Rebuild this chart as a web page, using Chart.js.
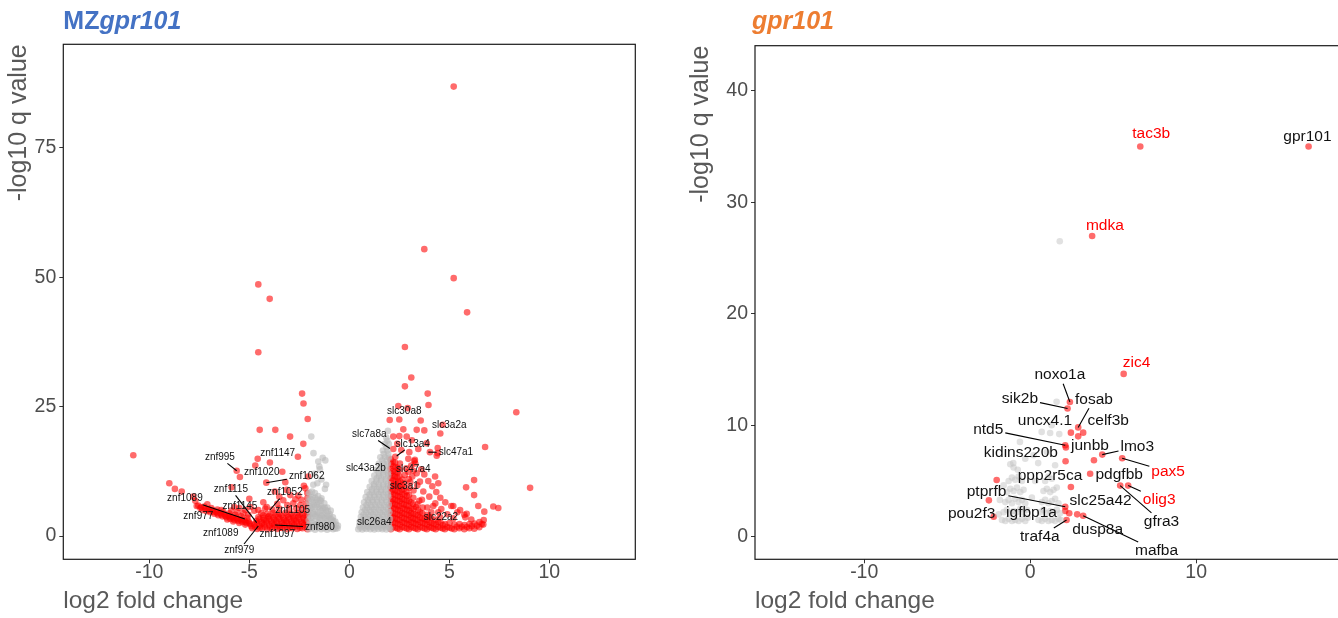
<!DOCTYPE html>
<html><head><meta charset="utf-8">
<script src="https://cdn.jsdelivr.net/npm/chart.js@4.4.1/dist/chart.umd.min.js"></script>
<style>
html,body{margin:0;padding:0;background:#fff;overflow:hidden;width:1338px;height:618px;position:relative;}
#c1{position:absolute;left:0;top:0;}
#c2{position:absolute;left:669px;top:0;}
</style></head><body>
<canvas id="c1" width="669" height="618"></canvas>
<canvas id="c2" width="700" height="618"></canvas>
<script>
// ---------------- DATA: panel 1 (MZgpr101) ----------------
const mzTitleParts = ['MZ', 'gpr101'];
const mzXTicks = [-10, -5, 0, 5, 10];
const mzYTicks = [0, 25, 50, 75];
const mzGrayDown = [
[-2.02,1.3],[-2.0,2.2],[-2.03,3.1],[-1.98,4.0],[-2.01,4.9],[-1.97,5.8],[-2.02,6.7],[-1.99,7.6],[-2.0,8.4],
[-1.86,1.5],[-1.84,2.5],[-1.87,3.5],[-1.83,4.5],[-1.86,5.5],[-1.85,6.5],[-1.84,7.5],[-1.86,8.6],
[-1.71,1.2],[-1.69,2.0],[-1.72,2.9],[-1.68,3.8],[-1.7,4.7],[-1.71,5.6],[-1.69,6.5],[-1.7,7.4],[-1.72,8.3],
[-1.56,1.6],[-1.54,2.6],[-1.55,3.6],[-1.57,4.6],[-1.53,5.6],[-1.55,6.6],[-1.56,7.7],
[-1.41,1.3],[-1.39,2.2],[-1.4,3.1],[-1.42,4.0],[-1.38,4.9],[-1.4,5.8],[-1.41,6.8],[-1.39,7.3],
[-1.26,1.5],[-1.24,2.5],[-1.25,3.5],[-1.27,4.5],[-1.23,5.5],[-1.25,6.3],
[-1.11,1.2],[-1.09,2.1],[-1.1,3.0],[-1.12,3.9],[-1.08,4.8],[-1.1,5.5],
[-0.96,1.5],[-0.94,2.4],[-0.95,3.3],[-0.97,4.2],[-0.93,4.9],
[-0.81,1.3],[-0.79,2.1],[-0.8,2.9],[-0.82,3.6],
[-0.69,1.4],[-0.67,2.2],[-0.7,2.8],[-0.59,1.5],[-0.57,2.0],
[-1.93,1.75],[-1.78,2.1],[-1.63,2.25],[-1.48,1.9],[-1.33,1.85],[-1.18,1.7],[-1.03,1.95],[-0.88,1.8],[-0.74,1.7],
[-1.93,3.55],[-1.78,4.2],[-1.62,4.15],[-1.47,3.5],[-1.32,4.0],[-1.17,3.45],[-1.02,3.8],[-0.88,3.2],
[-1.93,5.35],[-1.78,6.0],[-1.62,6.05],[-1.47,5.3],[-1.32,5.3],[-1.17,5.0],[-1.9,7.1],[-1.62,7.05],[-1.46,6.9],
[-1.9,19.2],[-1.79,16.0],[-1.33,15.1],[-1.55,14.4],[-1.2,14.6],[-1.47,12.9],[-1.75,12.0],
[-1.39,10.9],[-1.16,9.9],[-1.8,9.9],[-1.22,9.1],[-1.6,10.2],[-1.5,13.4]
];
const mzGrayUp = [
[0.45,1.3],[0.65,1.25],[0.85,1.35],[1.05,1.3],[1.25,1.25],[1.45,1.35],[1.65,1.3],[1.85,1.25],[2.05,1.35],
[0.5,2.0],[0.7,2.05],[0.9,1.95],[1.1,2.05],[1.3,2.0],[1.5,1.95],[1.7,2.05],[1.9,2.0],
[0.52,2.8],[0.75,2.85],[0.98,2.75],[1.2,2.85],[1.42,2.8],[1.65,2.75],[1.88,2.85],
[0.58,3.7],[0.8,3.65],[1.02,3.75],[1.25,3.7],[1.48,3.65],[1.7,3.75],[1.95,3.7],
[0.62,4.6],[0.85,4.55],[1.08,4.65],[1.3,4.6],[1.55,4.55],[1.78,4.65],[2.0,4.6],
[0.68,5.5],[0.9,5.45],[1.12,5.55],[1.35,5.5],[1.58,5.45],[1.82,5.55],
[0.74,6.5],[0.96,6.45],[1.18,6.55],[1.4,6.5],[1.62,6.45],[1.86,6.55],
[0.82,7.5],[1.04,7.45],[1.26,7.55],[1.5,7.5],[1.72,7.45],[1.95,7.55],
[0.9,8.5],[1.12,8.45],[1.35,8.55],[1.58,8.5],[1.82,8.45],
[1.02,9.5],[1.25,9.55],[1.48,9.45],[1.7,9.5],[1.93,9.55],
[1.12,10.6],[1.35,10.55],[1.58,10.65],[1.82,10.6],
[1.25,11.7],[1.48,11.65],[1.7,11.75],[1.94,11.7],
[1.35,12.8],[1.58,12.85],[1.82,12.75],
[1.48,14.0],[1.7,14.05],[1.92,13.95],
[1.55,15.2],[1.78,15.25],[1.98,15.15],
[1.68,16.5],[1.9,16.45],[1.78,17.8],[1.98,17.75],[1.85,19.0],[1.93,20.3],
[0.55,1.65],[0.76,1.6],[0.97,1.7],[1.18,1.6],[1.39,1.7],[1.6,1.6],[1.8,1.7],[2.0,1.65],
[0.62,2.4],[0.85,2.45],[1.08,2.35],[1.31,2.45],[1.54,2.4],[1.77,2.35],[1.98,2.45],
[0.66,3.25],[0.9,3.3],[1.13,3.2],[1.36,3.3],[1.59,3.25],[1.82,3.2],[2.03,3.3],
[0.72,4.15],[0.96,4.1],[1.19,4.2],[1.42,4.15],[1.66,4.1],[1.89,4.2],
[0.79,5.05],[1.01,5.0],[1.24,5.1],[1.47,5.05],[1.7,5.0],[1.93,5.1],
[0.86,6.0],[1.07,5.95],[1.29,6.05],[1.51,6.0],[1.74,5.95],[1.97,6.05],
[0.93,7.0],[1.15,6.95],[1.38,7.05],[1.61,7.0],[1.84,6.95],
[1.01,8.0],[1.24,7.95],[1.47,8.05],[1.7,8.0],[1.93,8.05],
[1.13,9.0],[1.37,9.05],[1.59,8.95],[1.82,9.0],[1.24,10.05],[1.47,10.1],[1.7,10.0],[1.92,10.1],
[1.37,11.15],[1.6,11.2],[1.84,11.1],[1.47,12.25],[1.7,12.3],[1.93,12.2],[1.6,13.4],[1.83,13.45],
[1.65,14.6],[1.88,14.65],[1.72,15.85],[1.95,15.9],[1.86,17.1],[1.9,18.4]
];
const mzRedDown = [
[-10.8,15.6],[-4.55,48.6],[-3.98,45.8],[-4.55,35.5],[-2.36,27.5],[-2.29,25.6],[-2.08,22.6],[-4.48,20.5],
[-3.7,20.5],[-2.96,19.2],[-2.3,17.8],[-2.57,15.3],[-4.58,14.9],[-3.97,14.2],[-4.7,13.6],[-5.63,12.6],
[-5.47,11.4],[-3.35,12.4],[-4.15,10.3],[-3.2,10.4],[-2.05,11.5],[-9.0,10.2],[-8.72,9.1],[-8.38,8.6],
[-5.88,9.4],[-2.27,9.7],[-5.0,7.2],[-7.8,7.6],[-7.7,6.8],[-7.63,5.8],
[-7.55,5.9],[-7.45,5.4],[-7.35,5.0],[-7.25,5.7],[-7.15,4.8],[-7.05,5.2],[-6.95,4.6],[-6.85,5.0],
[-6.75,4.3],[-6.65,4.7],[-6.55,4.0],[-6.45,4.4],[-6.35,3.8],[-6.25,4.2],[-6.15,3.6],[-6.05,3.9],
[-5.95,3.3],[-5.85,3.7],[-5.75,3.1],[-5.65,3.5],[-5.55,2.9],[-5.45,3.3],[-5.35,2.7],[-5.25,3.1],
[-5.15,2.5],[-5.05,2.9],[-4.95,2.3],[-6.9,5.4],[-6.6,5.1],[-6.3,4.7],[-6.0,4.4],[-5.7,4.1],
[-5.4,3.8],[-5.1,3.5],[-6.1,3.2],[-5.8,2.8],[-5.5,2.5],[-5.2,2.2],[-4.9,1.9],[-5.9,4.9],
[-5.6,4.6],[-5.3,4.4],[-5.05,4.1],[-5.5,5.4],[-5.2,5.0],[-4.95,5.6],[-5.75,5.6],[-6.4,5.0],[-7.1,6.1],
[-7.4,5.55],[-7.2,5.25],[-7.0,4.95],[-6.8,4.65],[-6.6,4.35],[-6.4,4.1],[-6.2,3.85],[-6.0,3.6],
[-5.8,3.4],[-5.6,3.2],[-5.4,3.0],[-5.2,2.75],[-5.0,2.55],
[-4.85,1.5],[-4.6,1.35],[-4.35,1.55],[-4.1,1.3],[-3.85,1.5],[-3.6,1.35],[-3.35,1.55],[-3.1,1.3],
[-2.85,1.5],[-2.6,1.35],[-2.35,1.5],[-2.1,1.3],
[-4.72,1.75],[-4.47,1.6],[-4.22,1.8],[-3.97,1.65],[-3.72,1.8],[-3.47,1.6],[-3.22,1.8],[-2.97,1.65],
[-2.72,1.8],[-2.47,1.6],[-2.22,1.75],
[-4.75,2.2],[-4.5,2.0],[-4.25,2.25],[-4.0,2.05],[-3.75,2.2],[-3.5,2.0],[-3.25,2.2],[-3.0,2.05],
[-2.75,2.2],[-2.5,2.0],[-2.25,2.2],[-2.05,2.0],
[-4.62,2.5],[-4.37,2.4],[-4.12,2.55],[-3.87,2.4],[-3.62,2.55],[-3.37,2.4],[-3.12,2.55],[-2.87,2.4],
[-2.62,2.55],[-2.37,2.4],[-2.12,2.5],
[-4.65,2.9],[-4.4,2.75],[-4.15,2.95],[-3.9,2.8],[-3.65,2.95],[-3.4,2.75],[-3.15,2.9],[-2.9,2.8],
[-2.65,2.95],[-2.4,2.75],[-2.15,2.9],
[-4.5,3.25],[-4.25,3.15],[-4.0,3.3],[-3.75,3.2],[-3.5,3.3],[-3.25,3.15],[-3.0,3.3],[-2.75,3.2],
[-2.5,3.3],[-2.25,3.15],
[-4.55,3.6],[-4.3,3.5],[-4.05,3.7],[-3.8,3.55],[-3.55,3.7],[-3.3,3.5],[-3.05,3.65],[-2.8,3.55],
[-2.55,3.7],[-2.3,3.5],[-2.08,3.65],
[-4.3,4.0],[-4.0,3.9],[-3.7,4.05],[-3.4,3.95],[-3.1,4.05],[-2.8,3.9],[-2.5,4.05],[-2.2,3.95],
[-4.4,4.4],[-4.1,4.3],[-3.8,4.5],[-3.5,4.35],[-3.2,4.5],[-2.9,4.3],[-2.6,4.45],[-2.35,4.3],[-2.1,4.5],
[-4.2,5.3],[-3.85,5.1],[-3.5,5.3],[-3.0,5.15],[-2.65,5.3],[-2.35,5.1],[-2.1,5.3],
[-3.6,6.2],[-3.1,6.0],[-2.8,6.3],[-2.45,6.0],[-2.15,6.2],
[-3.3,6.9],[-2.7,7.1],[-2.4,7.0],[-2.1,7.3],[-4.3,6.5],[-4.75,4.9],
[-3.72,8.6],[-3.13,8.9],[-2.55,7.8],[-2.2,9.2],[-4.13,5.6],[-4.55,5.0],[-2.95,7.9],[-3.5,7.6],[-2.1,8.3]
];
const mzRedUp = [
[5.22,86.8],[3.75,55.4],[5.22,49.8],[5.89,43.2],[2.78,36.5],[3.1,30.6],[2.78,28.9],[3.92,27.5],
[3.96,25.3],[2.45,25.1],[2.92,24.7],[8.35,23.9],[2.02,22.4],[2.5,22.5],[3.57,22.3],[4.67,21.5],
[3.75,20.4],[2.7,20.6],[3.37,20.5],[4.55,19.8],[2.2,19.2],[2.87,19.2],[3.13,18.5],[3.87,17.9],
[4.42,17.0],[6.79,17.2],[4.37,15.5],[4.03,16.2],[4.42,16.0],[3.28,14.7],[2.95,12.4],[3.37,12.1],
[3.53,10.5],[4.29,11.5],[4.45,10.2],[6.24,10.8],[5.84,9.4],[6.24,7.9],[9.04,9.3],[5.2,5.8],
[6.45,5.8],[6.75,4.7],[7.2,5.7],[7.45,5.4],[5.87,4.3],[5.75,4.1],[5.54,5.0],
[2.08,1.3],[2.06,2.2],[2.09,3.1],[2.07,4.0],[2.08,4.9],[2.06,5.8],[2.09,6.7],[2.07,7.6],
[2.08,8.5],[2.06,9.4],[2.09,10.3],[2.07,11.2],[2.08,12.1],[2.06,13.0],[2.09,13.9],[2.07,14.8],
[2.19,1.75],[2.2,2.65],[2.18,3.55],[2.19,4.45],[2.21,5.35],[2.17,6.25],[2.19,7.15],[2.2,8.05],
[2.18,8.95],[2.19,9.85],[2.21,10.75],[2.17,11.65],[2.19,12.55],[2.2,13.45],[2.18,14.35],
[2.3,1.6],[2.31,2.5],[2.29,3.4],[2.3,4.3],[2.32,5.2],[2.28,6.1],[2.3,7.0],[2.31,7.9],
[2.29,8.8],[2.3,9.7],[2.32,10.6],[2.28,11.5],[2.3,12.4],[2.31,13.3],[2.29,14.2],[2.3,15.3],
[2.41,1.45],[2.42,2.35],[2.4,3.25],[2.41,4.15],[2.43,5.05],[2.39,5.95],[2.41,6.85],[2.42,7.75],
[2.4,8.65],[2.41,9.55],[2.43,10.45],[2.39,11.35],[2.41,12.25],[2.42,13.15],
[2.52,1.3],[2.53,2.2],[2.51,3.1],[2.52,4.0],[2.54,4.9],[2.5,5.8],[2.52,6.7],[2.53,7.6],
[2.51,8.5],[2.52,9.4],[2.54,10.5],[2.5,11.6],[2.52,12.8],[2.53,14.0],
[2.64,1.75],[2.65,2.65],[2.63,3.55],[2.64,4.45],[2.66,5.35],[2.62,6.25],[2.64,7.15],[2.65,8.05],
[2.63,8.95],[2.64,9.85],[2.66,10.9],
[2.75,1.6],[2.76,2.5],[2.74,3.4],[2.75,4.3],[2.77,5.2],[2.73,6.1],[2.75,7.0],[2.76,8.0],
[2.74,9.1],[2.75,10.2],[2.77,11.8],
[2.87,1.45],[2.88,2.35],[2.86,3.25],[2.87,4.15],[2.89,5.05],[2.85,5.95],[2.87,6.85],[2.88,7.75],[2.86,8.6],
[2.98,1.3],[2.99,2.2],[2.97,3.1],[2.98,4.0],[3.0,4.9],[2.96,5.8],[2.98,6.8],[2.99,7.9],
[3.0,9.3],[3.05,10.4],[2.97,11.0],
[3.09,1.75],[3.1,2.65],[3.08,3.55],[3.09,4.45],[3.11,5.35],[3.07,6.5],
[3.2,1.6],[3.21,2.5],[3.19,3.4],[3.2,4.3],[3.22,5.2],[3.18,6.2],[3.2,7.4],[3.21,8.8],
[3.15,11.5],[3.2,12.6],[3.1,13.6],[3.25,14.5],[2.95,14.9],
[3.31,1.45],[3.32,2.35],[3.3,3.25],[3.31,4.15],[3.33,5.6],
[3.42,1.3],[3.43,2.2],[3.41,3.1],[3.42,4.0],[3.44,5.0],[3.4,6.1],
[3.54,1.75],[3.55,2.65],[3.53,3.55],[3.54,4.6],
[3.65,1.6],[3.66,2.5],[3.64,3.4],[3.65,4.4],[3.67,5.5],[3.63,7.0],
[3.77,1.45],[3.78,2.35],[3.76,3.3],
[3.88,1.3],[3.89,2.2],[3.87,3.1],[3.88,4.1],[4.0,1.75],[4.01,2.65],[3.99,3.7],
[4.1,1.6],[4.11,2.5],[4.09,3.5],[4.1,4.6],[4.21,1.45],[4.22,2.35],
[4.32,1.3],[4.33,2.2],[4.31,3.2],[4.44,1.75],[4.45,2.7],[4.55,1.6],[4.56,2.6],[4.54,3.6],
[4.67,1.45],[4.68,2.1],[4.78,1.3],[4.79,2.3],[4.9,1.75],[5.0,1.6],[5.01,2.5],[5.12,1.45],
[5.25,1.3],[5.26,2.2],[5.38,1.8],[5.5,1.5],[5.51,2.3],[5.62,1.8],
[5.75,1.3],[5.76,2.1],[5.88,1.75],[6.0,1.5],[6.01,2.3],[6.12,1.9],[6.25,1.4],[6.26,2.4],
[6.38,2.0],[6.5,1.7],[6.51,2.7],[6.62,2.3],[6.7,2.2],[6.72,3.1],
[3.3,14.0],[3.6,12.9],[3.75,11.9],[3.95,10.6],[4.15,9.6],[4.35,8.5],[4.55,7.4],[4.8,6.5],
[5.1,5.8],[3.4,9.8],[3.7,8.6],[4.0,7.6],[4.3,6.3],[4.6,5.2],[5.4,4.6],[5.8,3.6],[6.1,3.2],
[2.6,16.6],[2.4,17.8],[2.2,16.8],[2.5,19.3],[3.0,16.2],[3.45,16.8],[2.85,13.1],[3.9,5.5],
[4.2,5.8],[4.9,4.2],[5.2,3.4],[3.5,6.8],[4.45,4.6]
];
const mzLabelNames = ['znf995','znf1147','znf1020','znf1062','znf1115','znf1089','znf1052','znf1145',
  'znf1105','znf977','znf980','znf1089','znf1097','znf979','slc30a8','slc3a2a','slc7a8a','slc13a4',
  'slc47a1','slc43a2b','slc47a4','slc3a1','slc22a2','slc26a4'];
const mzLabelSpots = [[-6.47,15.2],[-3.58,16.0],[-4.38,12.4],[-2.13,11.6],[-5.92,9.0],[-8.22,7.2],
  [-3.22,8.37],[-5.47,5.8],[-2.83,5.02],[-7.55,3.86],[-1.47,1.68],[-6.43,0.52],[-3.6,0.39],[-5.5,-2.7],
  [2.75,24.1],[5.0,21.4],[1.0,19.6],[3.17,17.8],[5.33,16.1],[0.83,13.1],[3.2,12.9],[2.75,9.66],
  [4.58,3.54],[1.25,2.57]];
const mzLabelAnchors = [[-5.63,12.6],null,null,[-4.15,10.3],[-4.63,2.57],[-5.22,3.28],[-3.97,5.02],null,
  null,null,[-3.72,2.12],null,null,[-4.55,1.93],null,null,[2.03,16.9],[2.37,15.45],[3.95,16.2],
  null,null,null,null,null];

// ---------------- DATA: panel 2 (gpr101) ----------------
const gprTitleParts = ['gpr101'];
const gprXTicks = [-10, 0, 10];
const gprYTicks = [0, 10, 20, 30, 40];
const gprGray = [
[-1.7,1.5],[-1.5,1.4],[-1.3,1.6],[-1.1,1.4],[-0.9,1.5],[-0.7,1.4],[-0.5,1.6],[-0.3,1.4],[-0.15,1.7],
[-1.6,2.2],[-1.4,2.4],[-1.2,2.1],[-1.0,2.3],[-0.8,2.2],[-0.6,2.5],[-0.4,2.2],[-0.2,2.4],
[-1.5,3.1],[-1.3,3.3],[-1.1,3.0],[-0.9,3.4],[-0.7,3.1],[-0.5,3.3],[-0.3,3.0],
[-1.4,4.0],[-1.2,4.3],[-1.0,4.1],[-0.8,4.4],[-0.6,4.0],[-0.4,4.2],
[-1.3,5.0],[-1.1,5.3],[-0.9,5.1],[-0.7,5.4],[-0.5,5.0],[-1.0,6.2],[-0.75,6.0],[-1.2,6.5],
[0.5,1.5],[0.7,1.4],[0.9,1.6],[1.1,1.4],[1.3,1.5],[1.5,1.4],[1.7,1.6],[1.85,1.5],
[0.6,2.2],[0.8,2.4],[1.0,2.1],[1.2,2.3],[1.4,2.2],[1.6,2.4],[1.8,2.1],
[0.7,3.1],[0.9,3.3],[1.1,3.0],[1.3,3.2],[1.5,3.4],[1.7,3.0],
[0.8,4.1],[1.0,4.3],[1.2,4.0],[1.4,4.2],[1.6,4.4],[0.9,5.0],[1.1,5.4],[1.3,5.2],
[1.78,26.5],[1.59,12.1],[1.29,10.0],[0.69,9.4],[1.2,9.3],[1.75,9.2],[-0.62,8.5],[-1.02,6.6],
[0.48,6.6],[-1.83,3.3],[-1.9,2.0],[0.2,7.3],[-0.3,7.0],[1.0,7.6],[1.5,6.4],[-1.6,4.6],[0.3,5.0],[0.1,3.5]
];
const gprRed = [
[16.77,35.0],[6.63,35.0],[3.73,26.97],[5.63,14.6],[2.39,12.08],[2.25,11.5],[2.89,9.8],[3.19,9.33],
[2.45,9.33],[2.89,9.0],[2.11,8.2],[2.15,8.0],[4.34,7.36],[3.84,6.85],[2.13,6.76],[5.54,7.03],
[3.61,5.65],[2.45,4.46],[5.42,4.58],[5.9,4.58],[-2.02,5.08],[-2.49,3.26],[-2.2,1.79],[2.11,2.69],
[2.11,2.3],[2.35,2.1],[2.83,2.0],[3.19,1.88],[2.19,1.5]
];
const gprLabelNames = ['gpr101','tac3b','mdka','zic4','noxo1a','sik2b','fosab','uncx4.1','celf3b','ntd5',
  'junbb','kidins220b','lmo3','pax5','ppp2r5ca','pdgfbb','ptprfb','olig3','slc25a42','gfra3','pou2f3',
  'igfbp1a','dusp8a','traf4a','mafba'];
const gprLabelSpots = [[16.7,35.9],[7.29,36.1],[4.5,27.9],[6.41,15.6],[1.79,14.5],[-0.62,12.4],[3.84,12.3],
  [0.89,10.4],[4.7,10.4],[-2.53,9.63],[3.6,8.13],[-0.56,7.53],[6.45,8.07],[8.31,5.83],[1.19,5.44],
  [5.36,5.6],[-2.63,4.04],[7.77,3.35],[4.24,3.23],[7.91,1.35],[-3.53,2.1],[0.08,2.15],[4.06,0.66],
  [0.58,0.0],[7.61,-1.26]];
const gprLabelAnchors = [null,null,null,null,[2.39,12.08],[2.25,11.5],[2.89,9.8],null,null,[2.11,8.2],
  null,null,[4.34,7.36],[5.54,7.03],null,null,[2.11,2.69],[5.9,4.58],null,[5.42,4.58],null,null,null,
  [2.19,1.5],[3.19,1.88]];
const gprRedLabels = ['tac3b','mdka','zic4','pax5','olig3'];

// ---------------- rendering ----------------
const FONT = '"Liberation Sans", Arial, Helvetica, sans-serif';
const toXY = pairs => pairs.map(p => ({x: p[0], y: p[1]}));

const framePlugin = {
  id: 'frame',
  afterDatasetsDraw(chart) {
    const a = chart.chartArea, ctx = chart.ctx;
    ctx.save();
    ctx.strokeStyle = '#1a1a1a';
    ctx.lineWidth = 1.2;
    ctx.strokeRect(a.left, a.top, a.right - a.left, a.bottom - a.top);
    ctx.restore();
  }
};

function labelPlugin(names, spots, anchors, redNames, size) {
  return {
    id: 'geneLabels',
    afterDatasetsDraw(chart) {
      const {ctx, scales: {x, y}} = chart;
      ctx.save();
      ctx.font = size + 'px ' + FONT;
      ctx.textAlign = 'center';
      ctx.textBaseline = 'middle';
      ctx.strokeStyle = '#000';
      ctx.lineWidth = 1.1;
      names.forEach((n, i) => {
        const a = anchors[i];
        if (!a) return;
        const cx = x.getPixelForValue(spots[i][0]), cy = y.getPixelForValue(spots[i][1]);
        const ax = x.getPixelForValue(a[0]), ay = y.getPixelForValue(a[1]);
        const hw = ctx.measureText(n).width / 2 + 2, hh = size * 0.5 + 1;
        const dx = ax - cx, dy = ay - cy;
        const t = Math.min(dx ? hw / Math.abs(dx) : Infinity, dy ? hh / Math.abs(dy) : Infinity);
        if (t >= 1) return;
        ctx.beginPath();
        ctx.moveTo(cx + dx * t, cy + dy * t);
        ctx.lineTo(ax, ay);
        ctx.stroke();
      });
      names.forEach((n, i) => {
        ctx.fillStyle = redNames.includes(n) ? '#ff0000' : '#111';
        ctx.fillText(n, x.getPixelForValue(spots[i][0]), y.getPixelForValue(spots[i][1]));
      });
      ctx.restore();
    }
  };
}

function titlePlugin(parts, fonts, color, dx, baseline) {
  return {
    id: 'panelTitle',
    afterDraw(chart) {
      const ctx = chart.ctx;
      ctx.save();
      ctx.fillStyle = color;
      ctx.textBaseline = 'alphabetic';
      ctx.textAlign = 'left';
      let xx = chart.chartArea.left + dx;
      parts.forEach((p, i) => {
        ctx.font = fonts[i] + ' 25px ' + FONT;
        ctx.fillText(p, xx, baseline);
        xx += ctx.measureText(p).width;
      });
      ctx.restore();
    }
  };
}

function makePanel(id, o) {
  return new Chart(document.getElementById(id), {
    type: 'scatter',
    data: {datasets: [
      {data: toXY(o.gray), backgroundColor: o.grayColor, pointRadius: 3.3, pointHoverRadius: 3.3, borderWidth: 0},
      {data: toXY(o.red), backgroundColor: 'rgba(255,0,0,0.58)', pointRadius: 3.3, pointHoverRadius: 3.3, borderWidth: 0}
    ]},
    options: {
      responsive: false, animation: false, events: [], devicePixelRatio: 1,
      layout: {padding: o.pad},
      plugins: {legend: {display: false}, tooltip: {enabled: false}},
      scales: {
        x: {
          type: 'linear', min: o.xMin, max: o.xMax,
          afterBuildTicks: s => { s.ticks = o.xTicks.map(v => ({value: v})); },
          afterFit: s => { s.height = o.xH; },
          ticks: {color: '#4d4d4d', font: {size: 19.5, family: FONT, lineHeight: 1}, padding: 0, maxRotation: 0, autoSkip: false},
          grid: {display: true, drawOnChartArea: false, drawTicks: true, tickLength: 4, color: '#333', lineWidth: 1},
          border: {display: false},
          title: {display: true, text: 'log2 fold change', align: 'start', color: '#595959',
                  font: {size: 24.5, family: FONT, lineHeight: 1}, padding: {top: 0, bottom: 4.5}}
        },
        y: {
          type: 'linear', min: o.yMin, max: o.yMax,
          afterBuildTicks: s => { s.ticks = o.yTicks.map(v => ({value: v})); },
          afterFit: s => { s.width = o.yW; },
          ticks: {color: '#4d4d4d', font: {size: 19.5, family: FONT, lineHeight: 1}, padding: 3, autoSkip: false},
          grid: {display: true, drawOnChartArea: false, drawTicks: true, tickLength: 4, color: '#333', lineWidth: 1},
          border: {display: false},
          title: {display: true, text: '-log10 q value', align: 'end', color: '#595959',
                  font: {size: 25, family: FONT, lineHeight: 1}, padding: {top: o.yTitlePad, bottom: 0}}
        }
      }
    },
    plugins: [framePlugin, labelPlugin(o.labNames, o.labSpots, o.labAnchors, o.labRed, o.labSize),
              titlePlugin(o.titleParts, o.titleFonts, o.titleColor, o.titleDx, 28.5)]
  });
}

makePanel('c1', {
  gray: mzGrayDown.concat(mzGrayUp), red: mzRedDown.concat(mzRedUp), grayColor: 'rgba(185,185,185,0.6)',
  pad: {top: 44.3, right: 33.7, left: 0, bottom: 0},
  xMin: -14.3, xMax: 14.3, yMin: -4.5, yMax: 94.97, xTicks: mzXTicks, yTicks: mzYTicks,
  xH: 58.7, yW: 63.3, yTitlePad: 7,
  labNames: mzLabelNames, labSpots: mzLabelSpots, labAnchors: mzLabelAnchors, labRed: [], labSize: 10,
  titleParts: mzTitleParts, titleFonts: ['bold', 'italic bold'], titleColor: '#4472C4', titleDx: 0
});

makePanel('c2', {
  gray: gprGray, red: gprRed, grayColor: 'rgba(195,195,195,0.5)',
  pad: {top: 45.7, right: 23.4, left: 0, bottom: 0},
  xMin: -16.58, xMax: 19.0, yMin: -2.03, yMax: 44.04, xTicks: gprXTicks, yTicks: gprYTicks,
  xH: 58.7, yW: 86, yTitlePad: 20,
  labNames: gprLabelNames, labSpots: gprLabelSpots, labAnchors: gprLabelAnchors, labRed: gprRedLabels, labSize: 15.5,
  titleParts: gprTitleParts, titleFonts: ['italic bold'], titleColor: '#ED7D31', titleDx: -3
});
</script>
</body></html>
